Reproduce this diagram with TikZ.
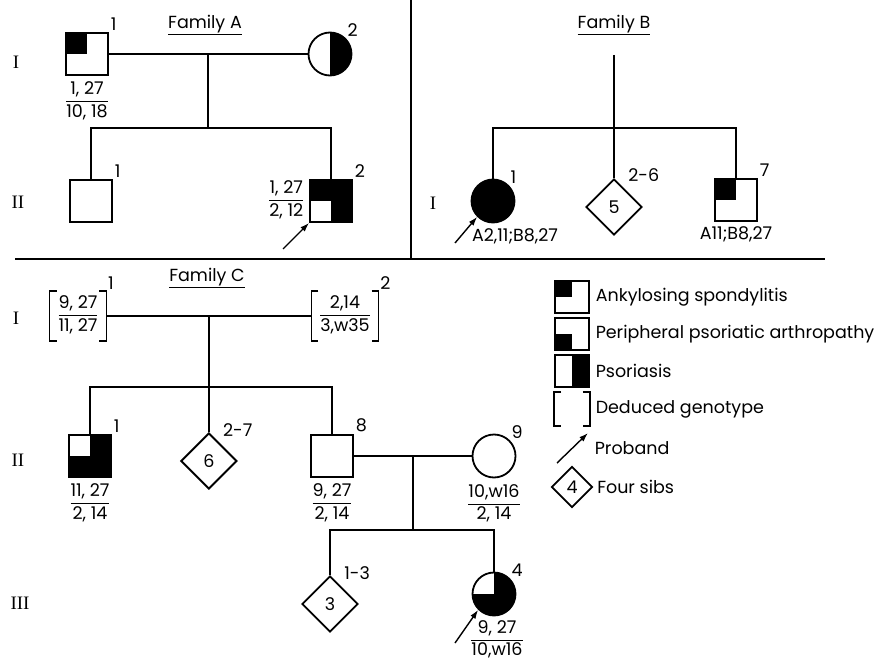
\documentclass[tikz,border=0pt]{standalone}
\usepackage{fontspec}
\setmainfont{Poppins}
\newfontfamily\romfont{Liberation Serif}
\usepackage{tikz}
\usetikzlibrary{arrows.meta,positioning,shapes.geometric,calc}
\newcommand{\geno}[2]{\begin{tabular}{@{}c@{}}#1\\[1pt]\hline\rule{0pt}{15pt}#2\end{tabular}}
\setlength{\arrayrulewidth}{1.4pt}
\renewcommand{\arraystretch}{0.95}

\begin{document}
\begin{tikzpicture}[x=1pt,y=-1pt,
  font=\fontsize{17.5}{19}\selectfont,
  line width=1.7pt,
  ind/.style={draw,inner sep=0pt,line width=1.8pt},
  male/.style={ind,rectangle,minimum size=42pt},
  female/.style={ind,circle,minimum size=43pt},
  sibs/.style={ind,diamond,minimum width=56pt,minimum height=56pt},
  legbox/.style={ind,rectangle,minimum width=34pt,minimum height=32pt},
  gen/.style={font=\romfont\fontsize{19}{21}\selectfont},
  num/.style={inner sep=1pt},
  geno/.style={inner sep=1pt},
  ded/.style={inner xsep=8pt,minimum height=48pt},
  legtxt/.style={anchor=west,inner sep=0pt},
  brk/.style={line width=1.6pt},
  proband/.style={-{Latex[length=9pt,width=6pt]},line width=1.4pt},
  as/.style={path picture={\fill (path picture bounding box.north west) rectangle (path picture bounding box.center);}},
  ppa/.style={path picture={\fill (path picture bounding box.south west) rectangle (path picture bounding box.center);}},
  pso/.style={path picture={\fill (path picture bounding box.north) rectangle (path picture bounding box.south east);}},
  aspso/.style={path picture={\fill (path picture bounding box.north west) rectangle (path picture bounding box.center);
    \fill (path picture bounding box.north) rectangle (path picture bounding box.south east);}},
  ppapso/.style={path picture={\fill (path picture bounding box.south west) rectangle (path picture bounding box.center);
    \fill (path picture bounding box.north) rectangle (path picture bounding box.south east);}}
]
\useasboundingbox (0,0) rectangle (880,663);

\coordinate (dtop) at (411,0);
\coordinate (dmid) at (411,259);
\coordinate (hl) at (15,259);
\coordinate (hr) at (825,259);
\draw[line width=1.4pt] (dtop) -- (dmid);
\draw[line width=1.4pt] (hl) -- (hr);

\node (ttla) at (205,25) {\underline{Family A}};
\node[gen] (ra1) at (16,62) {I};
\node[gen] (ra2) at (18,202) {II};
\node[male,as,label={[num]north east:1}] (a11) at (87,54) {};
\node[female,pso,label={[num]north east:2}] (a12) at (330,54) {};
\node[geno,below=4pt of a11] (ga11) {\geno{1, 27}{10, 18}};
\draw (a11.east) -- coordinate (am) (a12.west);
\coordinate (asib) at (am |- 0,128);
\draw (am) -- (asib);
\node[male,label={[num]north east:1}] (a21) at (91,201) {};
\node[male,aspso,label={[num]north east:2}] (a22) at (331,201) {};
\node[geno,left=4pt of a22] (ga22) {\geno{1, 27}{2, 12}};
\draw (a21.north) |- (asib) -| (a22.north);
\coordinate (pa) at (283,249);
\draw[proband] (pa) -- (a22.south west);

\node (ttlb) at (614,25) {\underline{Family B}};
\node[gen] (rb1) at (433,203) {I};
\coordinate (btop) at (614,55);
\coordinate (bsib) at (614,128);
\node[female,fill,label={[num]north east:1}] (b1) at (493,201) {};
\node[sibs,label={[num,xshift=-2pt,yshift=9pt]north east:2-6}] (b26) at (614,207) {5};
\node[male,as,label={[num]north east:7}] (b7) at (736,200) {};
\node[geno,below=3pt of b1,xshift=22pt] (gb1) {A2,11;B8,27};
\node[geno,below=3pt of b7] (gb7) {A11;B8,27};
\draw (btop) -- (b26.north);
\draw (b1.north) |- (bsib) -| (b7.north);
\coordinate (pb) at (455,243);
\draw[proband] (pb) -- (b1.south west);

\node (ttlc) at (207,278) {\underline{Family C}};
\node[gen] (rc1) at (16,318) {I};
\node[gen] (rc2) at (18,460) {II};
\node[gen] (rc3) at (20,603) {III};
\node[geno,ded,label={[num]north east:1}] (c1) at (78,316) {\geno{9, 27}{11, 27}};
\node[geno,ded,label={[num]north east:2}] (c2) at (345,316) {\geno{2,14}{3,w35}};
\draw (c1.east) -- coordinate (cm) (c2.west);
\coordinate (csib) at (cm |- 0,387);
\node[male,ppapso,label={[num]north east:1}] (c21) at (90,456) {};
\node[sibs,label={[num,xshift=-2pt,yshift=8pt]north east:2-7}] (c27) at (cm |- 0,461) {6};
\node[male,label={[num]north east:8}] (c28) at (332,456) {};
\draw (cm) -- (c27.north);
\draw (c21.north) |- (csib) -| (c28.north);
\node[female,label={[num]north east:9}] (c29) at (494,456) {};
\node[geno,below=4pt of c21] (gc21) {\geno{11, 27}{2, 14}};
\node[geno,below=4pt of c28] (gc28) {\geno{9, 27}{2, 14}};
\node[geno,below=4pt of c29] (gc29) {\geno{10,w16}{2, 14}};
\draw (c28.east) -- coordinate (cm2) (c29.west);
\coordinate (csib2) at (cm2 |- 0,530);
\draw (cm2) -- (csib2);
\node[sibs,label={[num,xshift=-2pt,yshift=8pt]north east:1-3}] (c313) at (330,604) {3};
\node[female,ppapso,label={[num]north east:4}] (c34) at (494,594) {};
\node[geno,below=2pt of c34,xshift=3pt] (gc34) {\geno{9, 27}{10,w16}};
\draw (c313.north) |- (csib2) -| (c34.north);
\coordinate (pc) at (455,643);
\draw[proband] (pc) -- (c34.south west);

\node[legbox,as] (las) at (572,297) {};
\node[legtxt,right=5pt of las] (tas) {Ankylosing spondylitis};
\node[legbox,ppa] (lppa) at (572,334) {};
\node[legtxt,right=5pt of lppa] (tppa) {Peripheral psoriatic arthropathy};
\node[legbox,pso] (lpso) at (572,371) {};
\node[legtxt,right=5pt of lpso] (tpso) {Psoriasis};
\node[legbox,draw=none] (lded) at (572,409) {};
\node[legtxt,right=5pt of lded] (tded) {Deduced genotype};
\foreach \n in {c1,c2,lded}{
  \draw[brk] ([xshift=7pt]\n.north west) -| (\n.south west) -- ++(7pt,0);
  \draw[brk] ([xshift=-7pt]\n.north east) -| (\n.south east) -- ++(-7pt,0);
}
\coordinate (lpa) at (557,463);
\coordinate (lpb) at (588,433);
\draw[proband] (lpa) -- (lpb);
\node[legtxt] (tpro) at (594,448) {Proband};
\node[sibs,minimum width=41pt,minimum height=41pt] (lsib) at (572,487) {4};
\node[legtxt,right=3pt of lsib] (tsib) {Four sibs};
\end{tikzpicture}
\end{document}
